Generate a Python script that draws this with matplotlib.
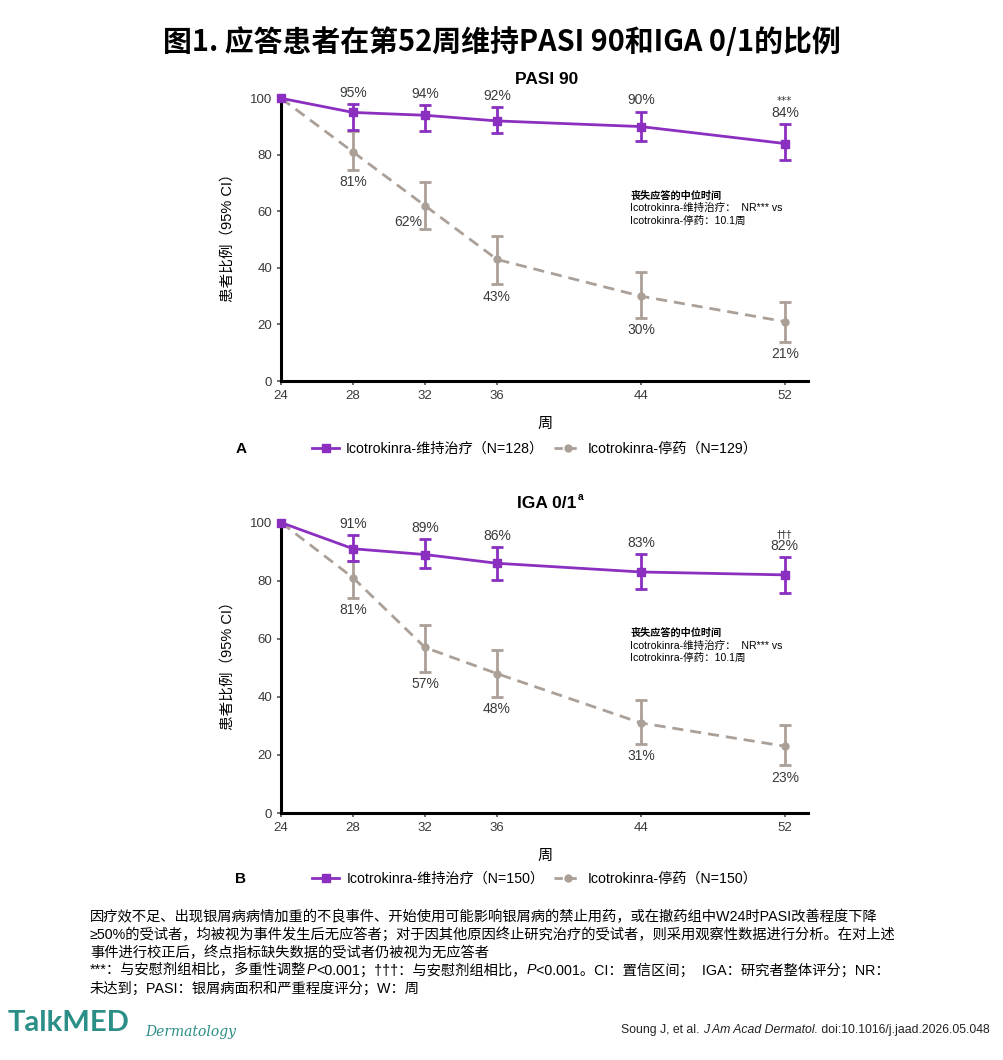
import matplotlib
matplotlib.use("Agg")
import matplotlib.pyplot as plt
from matplotlib.lines import Line2D

plt.rcParams['font.family'] = ['Liberation Sans', 'Noto Sans CJK SC', 'DejaVu Sans']

weeks = [24, 28, 32, 36, 44, 52]

# panel A: PASI 90
pasi_maint = [100, 95, 94, 92, 90, 84]
pasi_maint_lo = [100, 88.9, 88.4, 87.6, 84.8, 78.2]
pasi_maint_hi = [100, 98.0, 97.5, 96.8, 95.3, 90.8]
pasi_wd = [100, 81, 62, 43, 30, 21]
pasi_wd_lo = [100, 74.8, 53.6, 34.2, 22.4, 13.9]
pasi_wd_hi = [100, 88.4, 70.5, 51.3, 38.4, 28.1]

# panel B: IGA 0/1
iga_maint = [100, 91, 89, 86, 83, 82]
iga_maint_lo = [100, 86.8, 84.2, 80.4, 77.3, 75.8]
iga_maint_hi = [100, 95.8, 94.2, 91.5, 89.3, 88.1]
iga_wd = [100, 81, 57, 48, 31, 23]
iga_wd_lo = [100, 74.2, 48.6, 40.0, 23.9, 16.5]
iga_wd_hi = [100, 86.8, 64.7, 56.0, 38.8, 30.2]

PURPLE = '#8a2fc0'
GREY = '#aba098'
TXT = '#3a3a3a'
TEAL = '#2b8f87'
MIX = ['Liberation Sans', 'Noto Sans CJK SC', 'DejaVu Sans']

fig = plt.figure(figsize=(10.04, 10.6), dpi=100)
renderer = fig.canvas.get_renderer()

fig.text(0.5, 1 - 42 / 1060, '图1. 应答患者在第52周维持PASI 90和IGA 0/1的比例',
         ha='center', va='center', fontsize=20.8, fontweight='bold',
         family=['Noto Sans CJK SC', 'DejaVu Sans'])


def panel(rect, title, sup, maint, mlo, mhi, wd, wlo, whi, mark, n1, n2, box_y, left_label=None):
    ax = fig.add_axes(rect)
    ax.set_xlim(24, 53.3)
    ax.set_ylim(0, 104)
    for s in ['top', 'right']:
        ax.spines[s].set_visible(False)
    ax.spines['left'].set_bounds(0, 100)
    ax.spines['left'].set_linewidth(2.2)
    ax.spines['bottom'].set_linewidth(2.2)
    ax.set_xticks(weeks)
    ax.set_yticks([0, 20, 40, 60, 80, 100])
    ax.tick_params(axis='both', labelsize=9.5, labelcolor=TXT, width=1.2, length=3, color='#555555')

    ax.errorbar(weeks[1:], wd[1:],
                yerr=[[w - l for w, l in zip(wd[1:], wlo[1:])], [h - w for w, h in zip(wd[1:], whi[1:])]],
                fmt='none', ecolor=GREY, elinewidth=2, capsize=4, capthick=2, zorder=2)
    ax.plot(weeks, wd, color=GREY, lw=2, ls=(0, (4, 2.5)), marker='o', ms=5,
            clip_on=False, zorder=3)
    ax.errorbar(weeks[1:], maint[1:],
                yerr=[[m - l for m, l in zip(maint[1:], mlo[1:])], [h - m for m, h in zip(maint[1:], mhi[1:])]],
                fmt='none', ecolor=PURPLE, elinewidth=2, capsize=4, capthick=2, zorder=4)
    ax.plot(weeks, maint, color=PURPLE, lw=2, marker='s', ms=6, clip_on=False, zorder=5)

    for i in range(1, len(weeks)):
        ax.annotate(f'{maint[i]}%', (weeks[i], mhi[i]), xytext=(0, 3), textcoords='offset points',
                    ha='center', va='bottom', fontsize=10, color=TXT, annotation_clip=False)
        if left_label == i:
            ax.annotate(f'{wd[i]}%', (weeks[i], wd[i]), xytext=(-2, -12), textcoords='offset points',
                        ha='right', va='center', fontsize=10, color=TXT)
        else:
            ax.annotate(f'{wd[i]}%', (weeks[i], wlo[i]), xytext=(0, -4), textcoords='offset points',
                        ha='center', va='top', fontsize=10, color=TXT)
    ax.annotate(mark, (weeks[-1], mhi[-1]), xytext=(0, 13), textcoords='offset points',
                ha='center', va='bottom', fontsize=7.5, color=TXT, annotation_clip=False,
                family=['DejaVu Sans'])

    ax.set_title(title, fontsize=12.5, fontweight='bold', pad=1, x=0.503)
    if sup:
        ax.annotate(sup, (0.503, 1.0), xycoords='axes fraction', xytext=(23, 8),
                    textcoords='offset points', fontsize=7.5, fontweight='bold')
    ax.set_xlabel('周', fontsize=11, labelpad=9, family=['Noto Sans CJK SC'])
    ax.set_ylabel('患者比例（95% CI）', fontsize=10.5, labelpad=11, family=MIX)

    ax.text(43.4, box_y, '丧失应答的中位时间', fontsize=7.3, va='center',
            fontweight='bold', family=['Noto Sans CJK SC'])
    ax.text(43.4, box_y - 4.2, 'Icotrokinra-维持治疗：  NR*** vs', fontsize=7.6, va='center', family=MIX)
    ax.text(43.4, box_y - 8.6, 'Icotrokinra-停药：10.1周', fontsize=7.6, va='center', family=MIX)

    handles = [Line2D([], [], color=PURPLE, lw=2, marker='s', ms=6),
               Line2D([], [], color=GREY, lw=2, ls=(0, (3, 2)), marker='o', ms=5)]
    labels = [f'Icotrokinra-维持治疗（N={n1}）', f'Icotrokinra-停药（N={n2}）']
    return ax, handles, labels


axA, hA, lA = panel([0.280, 1 - 381 / 1060, 0.525, 294 / 1060], 'PASI 90', None,
                    pasi_maint, pasi_maint_lo, pasi_maint_hi,
                    pasi_wd, pasi_wd_lo, pasi_wd_hi, '***', 128, 129, 65.4, left_label=2)
axB, hB, lB = panel([0.280, 1 - 813 / 1060, 0.525, 302 / 1060], 'IGA 0/1', 'a',
                    iga_maint, iga_maint_lo, iga_maint_hi,
                    iga_wd, iga_wd_lo, iga_wd_hi, '†††', 150, 150, 61.9)

for h, l, y, letter in [(hA, lA, 449, 'A'), (hB, lB, 879, 'B')]:
    fig.legend(h, l, loc='center', bbox_to_anchor=(0.533, 1 - y / 1060), ncol=2, frameon=False,
               handlelength=1.9, columnspacing=0.7, handletextpad=0.5,
               prop={'family': MIX, 'size': 10.2})
    fig.text(241 / 1004, 1 - y / 1060, letter, fontsize=11, fontweight='bold', ha='center', va='center')


def run_text(x_px, y_px, parts, size, color='black', align='left'):
    # lay text pieces one after another (mixed upright / italic)
    arts = []
    x = x_px
    for s, style in parts:
        t = fig.text(x / 1004, 1 - y_px / 1060, s, fontsize=size, va='center', ha='left',
                     style=style, color=color, family=MIX)
        x = t.get_window_extent(renderer).x1
        arts.append(t)
    if align == 'right':
        shift = x_px - x
        for t in arts:
            px, py = t.get_position()
            t.set_position((px + shift / 1004, py))


notes = [[('因疗效不足、出现银屑病病情加重的不良事件、开始使用可能影响银屑病的禁止用药，或在撤药组中W24时PASI改善程度下降', 'normal')],
         [('≥50%的受试者，均被视为事件发生后无应答者；对于因其他原因终止研究治疗的受试者，则采用观察性数据进行分析。在对上述', 'normal')],
         [('事件进行校正后，终点指标缺失数据的受试者仍被视为无应答者', 'normal')],
         [('***：与安慰剂组相比，多重性调整', 'normal'), ('P', 'italic'),
          ('<0.001；†††：与安慰剂组相比，', 'normal'), ('P', 'italic'),
          ('<0.001。CI：置信区间；  IGA：研究者整体评分；NR：', 'normal')],
         [('未达到；PASI：银屑病面积和严重程度评分；W：周', 'normal')]]
for k, parts in enumerate(notes):
    run_text(90, 917 + 17.8 * k, parts, 10.3)

fig.text(8 / 1004, 1 - 1023 / 1060, 'TalkMED', fontsize=21, fontweight='bold', color=TEAL,
         va='center', ha='left', family=['Lato', 'DejaVu Sans'])
fig.text(145 / 1004, 1 - 1032 / 1060, 'Dermatology', fontsize=10, style='italic', color=TEAL,
         va='center', ha='left', family=['DejaVu Serif'])
run_text(990, 1030, [('Soung J, et al. ', 'normal'), ('J Am Acad Dermatol.', 'italic'),
                     (' doi:10.1016/j.jaad.2026.05.048', 'normal')], 8.8, color='#222222', align='right')

fig.savefig('out.png', dpi=100)
